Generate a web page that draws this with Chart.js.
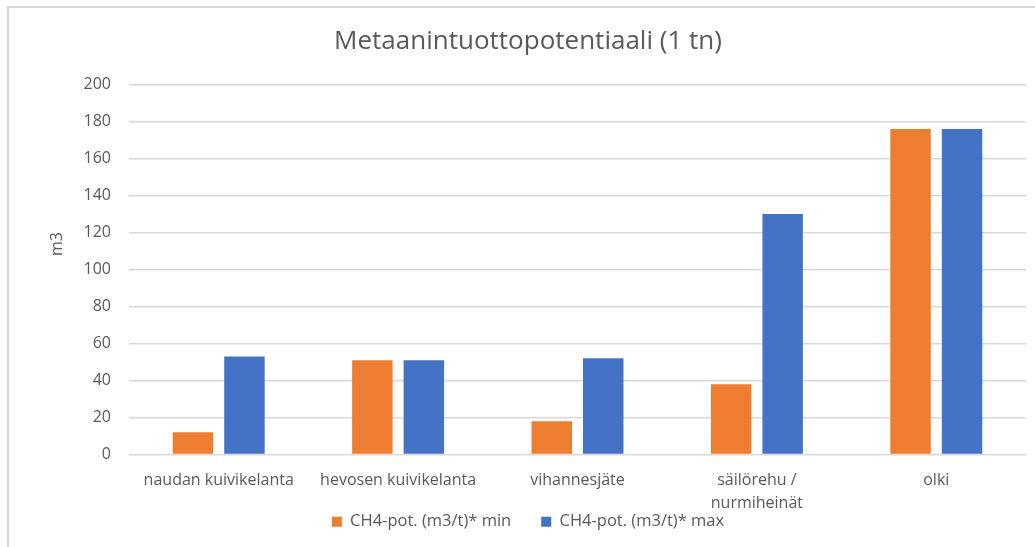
<!DOCTYPE html>
<html lang="fi">
<head>
<meta charset="utf-8">
<title>Metaanintuottopotentiaali</title>
<script src="https://cdn.jsdelivr.net/npm/chart.js@4.4.1/dist/chart.umd.min.js"></script>
<style>
  html, body { margin: 0; padding: 0; background: #ffffff; overflow: hidden; width: 1035px; height: 547px; }
  #frame { position: absolute; left: 7px; top: 6px; width: 1100px; height: 620px; border-top: 2px solid #d9d9d9; border-left: 2px solid #d9d9d9; }
  #chart { position: absolute; left: 9px; top: 8px; }
</style>
</head>
<body>
<div id="frame"></div>
<canvas id="chart" width="1040" height="539"></canvas>
<script>
// Raw material categories (x axis)
const categories = [
  'naudan kuivikelanta',
  'hevosen kuivikelanta',
  'vihannesjäte',
  ['säilörehu /', 'nurmiheinät'],
  'olki'
];

// Methane production potential per tonne, m3
const minValues = [12, 51, 18, 38, 176];
const maxValues = [53, 51, 52, 130, 176];

const seriesNames = ['CH4-pot. (m3/t)* min', 'CH4-pot. (m3/t)* max'];
const chartTitle = 'Metaanintuottopotentiaali (1 tn)';
const yAxisTitle = 'm3';

// Y axis range
const yMin = 0;
const yMax = 200;
const yStep = 20;

const textColor = '#595959';
const gridColor = '#d9d9d9';
const orange = '#ed7d31';
const blue = '#4472c4';

Chart.defaults.font.family = "'Open Sans', 'DejaVu Sans', sans-serif";
Chart.defaults.color = textColor;

// Rotated axis caption drawn beside the value ticks
const yCaption = {
  id: 'yCaption',
  afterDraw(chart) {
    const ctx = chart.ctx;
    ctx.save();
    ctx.translate(48, 236);
    ctx.rotate(-Math.PI / 2);
    ctx.font = "16px 'Open Sans', sans-serif";
    ctx.fillStyle = textColor;
    ctx.textAlign = 'center';
    ctx.textBaseline = 'middle';
    ctx.fillText(yAxisTitle, 0, 0);
    ctx.restore();
  }
};

// The category axis is kept short so the legend sits close under it;
// widen its label area again so two-line labels are not cut off.
const categoryLabelRoom = {
  id: 'categoryLabelRoom',
  beforeDraw(chart) {
    const x = chart.scales.x;
    x.bottom = x.top + 70;
  }
};

new Chart(document.getElementById('chart'), {
  type: 'bar',
  data: {
    labels: categories,
    datasets: [
      { label: seriesNames[0], data: minValues, backgroundColor: orange, borderWidth: 0 },
      { label: seriesNames[1], data: maxValues, backgroundColor: blue, borderWidth: 0 }
    ]
  },
  options: {
    responsive: false,
    animation: false,
    devicePixelRatio: 1,
    categoryPercentage: 0.574,
    barPercentage: 0.786,
    layout: { padding: { top: 18, right: 23, bottom: 7, left: 21 } },
    plugins: {
      title: {
        display: true,
        text: chartTitle,
        color: textColor,
        font: { size: 26, weight: 'normal' },
        padding: { top: 0, bottom: 27.4 }
      },
      legend: {
        position: 'bottom',
        labels: {
          color: textColor,
          font: { size: 16.5 },
          boxWidth: 10,
          boxHeight: 10,
          padding: 30
        }
      },
      tooltip: { enabled: false }
    },
    scales: {
      x: {
        grid: { display: false },
        border: { display: false },
        ticks: {
          color: textColor,
          font: { size: 16, lineHeight: 1.4 },
          padding: 7,
          maxRotation: 0,
          minRotation: 0,
          autoSkip: false
        },
        afterFit(scale) { scale.height = 29; }
      },
      y: {
        min: yMin,
        max: yMax,
        grid: { color: gridColor, lineWidth: 1.5, drawTicks: false },
        border: { display: false },
        ticks: {
          stepSize: yStep,
          color: textColor,
          font: { size: 16 },
          padding: 18
        },
        afterFit(scale) { scale.width = 99; }
      }
    }
  },
  plugins: [yCaption, categoryLabelRoom]
});
</script>
</body>
</html>
